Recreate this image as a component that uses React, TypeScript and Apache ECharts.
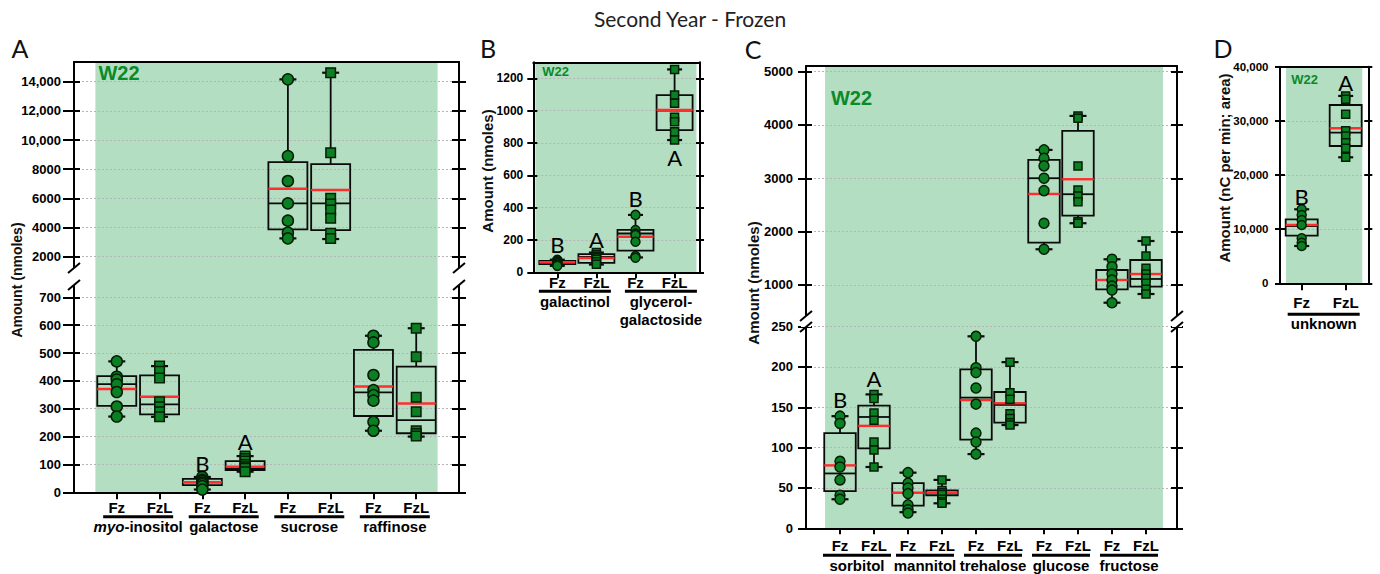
import React, { useEffect, useRef } from 'react';
import * as echarts from 'echarts';

const TREATMENTS = ['Fz', 'FzL'];

// ---------------- Panel A ----------------
const A_GROUPS = ['myo-inositol', 'galactose', 'sucrose', 'raffinose'];
const A_MIN = [272, 271, 10, 74, 3256, 3210, 221, 200];
const A_Q1 = [310, 280, 26, 80, 3873, 3827, 274, 212];
const A_MEDIAN = [388, 316, 36, 86, 5657, 5657, 359, 259];
const A_Q3 = [417, 420, 48, 112, 8490, 8354, 511, 451];
const A_MAX = [470, 453, 55, 130, 14160, 14617, 562, 589];
const A_MEAN = [371, 343, 36, 92, 6662, 6570, 380, 319];
const A_POINTS = [
  [470, 415, 405, 388, 360, 308, 272],
  [453, 435, 410, 325, 307, 289, 271],
  [55, 45, 40, 35, 30, 22, 10],
  [130, 121, 112, 100, 92, 86, 74],
  [14160, 8900, 7190, 5660, 4470, 3650, 3260],
  [14617, 9130, 6000, 5610, 5200, 4630, 3600, 3256],
  [562, 538, 421, 367, 349, 329, 253, 221],
  [589, 487, 341, 289, 221, 211, 202],
];
const A_LETTERS = [
  { idx: 2, y: 105, text: 'B' },
  { idx: 3, y: 181, text: 'A' },
];
const A_TICKS_UPPER = [2000, 4000, 6000, 8000, 10000, 12000, 14000];
const A_TICKS_LOWER = [0, 100, 200, 300, 400, 500, 600, 700];

// ---------------- Panel B ----------------
const B_GROUPS = ['galactinol', 'glycerol-\ngalactoside'];
const B_MIN = [40, 48, 92, 818];
const B_Q1 = [50, 58, 134, 880];
const B_MEDIAN = [60, 95, 240, 1000];
const B_Q3 = [70, 112, 262, 1096];
const B_MAX = [78, 122, 355, 1255];
const B_MEAN = [62, 88, 220, 1004];
const B_POINTS = [
  [78, 72, 65, 60, 55, 48, 40],
  [122, 108, 98, 90, 80, 65, 50],
  [355, 262, 240, 231, 189, 101, 90],
  [1255, 1096, 1045, 959, 931, 870, 818],
];
const B_LETTERS = [
  { idx: 0, y: 169, text: 'B' },
  { idx: 1, y: 200, text: 'A' },
  { idx: 2, y: 459, text: 'B' },
  { idx: 3, y: 712, text: 'A' },
];
const B_TICKS = [0, 200, 400, 600, 800, 1000, 1200];

// ---------------- Panel C ----------------
const C_GROUPS = ['sorbitol', 'mannitol', 'trehalose', 'glucose', 'fructose'];
const C_MIN = [36, 76, 20, 31, 92, 128, 1670, 2158, 668, 831];
const C_Q1 = [46, 99, 28, 41, 110, 131, 1793, 2300, 919, 969];
const C_MEDIAN = [68, 138, 44, 44, 162, 153, 3002, 2702, 1094, 1113];
const C_Q3 = [118, 152, 56, 47, 197, 169, 3345, 3889, 1281, 1469];
const C_MAX = [139, 166, 69, 60, 238, 206, 3533, 4170, 1482, 1825];
const C_MEAN = [78, 127, 44, 44, 159, 155, 2707, 2983, 1094, 1206];
const C_POINTS = [
  [139, 130, 83, 76, 60, 41, 36],
  [166, 161, 143, 134, 107, 97, 76],
  [69, 56, 50, 43, 29, 23, 19],
  [60, 47, 44, 42, 36, 33, 31],
  [238, 199, 193, 174, 154, 118, 107, 92],
  [206, 168, 160, 142, 136, 131, 128],
  [3533, 3377, 3233, 3002, 2769, 2158, 1670],
  [4170, 4127, 3233, 2782, 2670, 2563, 2188, 2158],
  [1482, 1343, 1206, 1094, 981, 906, 668],
  [1825, 1544, 1313, 1206, 1125, 1031, 919, 831],
];
const C_LETTERS = [
  { idx: 0, y: 160, text: 'B' },
  { idx: 1, y: 186, text: 'A' },
];
const C_TICKS_UPPER = [1000, 2000, 3000, 4000, 5000];
const C_TICKS_LOWER = [0, 50, 100, 150, 200, 250];

// ---------------- Panel D ----------------
const D_GROUPS = ['unknown'];
const D_MIN = [6888, 23269];
const D_Q1 = [8796, 25355];
const D_MEDIAN = [10582, 27812];
const D_Q3 = [11819, 32927];
const D_MAX = [13666, 34600];
const D_MEAN = [10766, 28624];
const D_POINTS = [
  [13666, 12613, 11690, 10766, 8310, 7498, 6888],
  [34600, 33980, 31210, 28181, 27202, 25965, 24930, 23269],
];
const D_LETTERS = [
  { idx: 0, y: 15990, text: 'B' },
  { idx: 1, y: 37050, text: 'A' },
];
const D_TICKS = [0, 10000, 20000, 30000, 40000];

// ---------------- styles ----------------
const SANS = '"Liberation Sans", Arial, sans-serif';
const HUMAN = 'Lato, "Open Sans", sans-serif';
const BAND = '#b3dec1';
const GRIDC = '#b5b5b5';
const MARK = '#0b8022';
const MARK_B = '#061d07';
const W22C = '#0a8a2a';
const AX = '#000';

const plain = (v: number) => String(v);
const comma = (v: number) => (v >= 10000 ? v.toLocaleString('en-US') : String(v));

type Seg = { top: number; height: number; min: number; max: number; ticks: number[] };
type Panel = {
  letter: string; letterXY: [number, number];
  yName: string; yNameXY: [number, number]; yNameSize: number;
  w22XY: [number, number]; w22Size: number;
  left: number; width: number; xMin: number; xMax: number; band: [number, number];
  segs: Seg[]; gap?: [number, number];
  groups: string[]; groupPos: number[]; lineWidths: number[];
  min: number[]; q1: number[]; med: number[]; q3: number[]; max: number[]; mean: number[];
  points: number[][]; letters: { idx: number; y: number; text: string }[];
  fmt: (v: number) => string; labelSize: number; labelMargin: number;
  tickOut: number; tickIn: number; rTick: number; xTick: number;
  xMargin: number; gMargin: number; nameLH: number;
  boxW: number; capW: number; circle: number; square: number;
};

const PANELS: Panel[] = [
  {
    letter: 'A', letterXY: [20, 48], yName: 'Amount (nmoles)', yNameXY: [17, 280], yNameSize: 14,
    w22XY: [119, 72.5], w22Size: 20,
    left: 74, width: 385, xMin: -1, xMax: 8, band: [-0.5, 7.5],
    segs: [
      { top: 62, height: 214, min: 677, max: 15351, ticks: A_TICKS_UPPER },
      { top: 276, height: 216.3, min: 0, max: 776.5, ticks: A_TICKS_LOWER },
    ],
    gap: [268, 285],
    groups: A_GROUPS, groupPos: [0.5, 2.5, 4.5, 6.5], lineWidths: [70, 70, 70, 70],
    min: A_MIN, q1: A_Q1, med: A_MEDIAN, q3: A_Q3, max: A_MAX, mean: A_MEAN,
    points: A_POINTS, letters: A_LETTERS,
    fmt: comma, labelSize: 13, labelMargin: 13, tickOut: 11, tickIn: 6, rTick: 7, xTick: 7,
    xMargin: 8, gMargin: 23, nameLH: 17,
    boxW: 39, capW: 17, circle: 11, square: 9.5,
  },
  {
    letter: 'B', letterXY: [488, 48], yName: 'Amount (nmoles)', yNameXY: [487, 171], yNameSize: 15,
    w22XY: [555.5, 71.7], w22Size: 13,
    left: 533.3, width: 166.7, xMin: -0.614, xMax: 3.65, band: [-0.56, 3.56],
    segs: [{ top: 62.3, height: 210, min: 0, max: 1299, ticks: B_TICKS }],
    groups: B_GROUPS, groupPos: [0.45, 2.65], lineWidths: [72, 72],
    min: B_MIN, q1: B_Q1, med: B_MEDIAN, q3: B_Q3, max: B_MAX, mean: B_MEAN,
    points: B_POINTS, letters: B_LETTERS,
    fmt: plain, labelSize: 12, labelMargin: 10, tickOut: 6, tickIn: 4, rTick: 4, xTick: 6,
    xMargin: 3, gMargin: 17.5, nameLH: 18,
    boxW: 36, capW: 15, circle: 9, square: 8,
  },
  {
    letter: 'C', letterXY: [753, 49], yName: 'Amount (nmoles)', yNameXY: [753, 283], yNameSize: 15,
    w22XY: [851.5, 98.3], w22Size: 20,
    left: 806, width: 371, xMin: -1, xMax: 9.912, band: [-0.44, 9.5],
    segs: [
      { top: 66, height: 255, min: 325, max: 5106, ticks: C_TICKS_UPPER },
      { top: 321, height: 207.3, min: 0, max: 257, ticks: C_TICKS_LOWER },
    ],
    gap: [316, 327],
    groups: C_GROUPS, groupPos: [0.5, 2.5, 4.5, 6.5, 8.5], lineWidths: [68, 58, 58, 58, 58],
    min: C_MIN, q1: C_Q1, med: C_MEDIAN, q3: C_Q3, max: C_MAX, mean: C_MEAN,
    points: C_POINTS, letters: C_LETTERS,
    fmt: plain, labelSize: 13, labelMargin: 13, tickOut: 8, tickIn: 6, rTick: 6, xTick: 6,
    xMargin: 10, gMargin: 25.5, nameLH: 17,
    boxW: 31.5, capW: 17, circle: 10, square: 8,
  },
  {
    letter: 'D', letterXY: [1223, 48], yName: 'Amount (nC per min; area)', yNameXY: [1224, 168], yNameSize: 15,
    w22XY: [1304.7, 79], w22Size: 13,
    left: 1280, width: 88.3, xMin: -0.493, xMax: 1.514, band: [-0.357, 1.377],
    segs: [{ top: 66.7, height: 216.6, min: 0, max: 40000, ticks: D_TICKS }],
    groups: D_GROUPS, groupPos: [0.5], lineWidths: [72],
    min: D_MIN, q1: D_Q1, med: D_MEDIAN, q3: D_Q3, max: D_MAX, mean: D_MEAN,
    points: D_POINTS, letters: D_LETTERS,
    fmt: comma, labelSize: 11.5, labelMargin: 11.5, tickOut: 5, tickIn: 5, rTick: 4, xTick: 7,
    xMargin: 11.5, gMargin: 29.5, nameLH: 15,
    boxW: 32, capW: 15, circle: 9, square: 8,
  },
];

function groupText(name: string, j: number): string {
  const line = `{l${j}| }`;
  if (name.startsWith('myo-')) return `${line}\n{i|myo}{n|${name.slice(3)}}`;
  return `${line}\n` + name.split('\n').map((s) => `{n|${s}}`).join('\n');
}

function buildOption() {
  const grid: any[] = [];
  const xAxis: any[] = [];
  const yAxis: any[] = [];
  const series: any[] = [];
  const graphic: any[] = [];
  const axLine = (show: boolean) => ({ show, onZero: false, lineStyle: { color: AX, width: 2 } });

  PANELS.forEach((p) => {
    const n = p.min.length;
    const cats = Array.from({ length: n }, (_, i) => i);
    const rich: any = {
      n: { fontSize: 15, fontWeight: 'bold', lineHeight: p.nameLH, color: '#000', fontFamily: SANS, align: 'center' },
      i: { fontSize: 15, fontWeight: 'bold', fontStyle: 'italic', lineHeight: p.nameLH, color: '#000', fontFamily: SANS, align: 'center' },
    };
    p.lineWidths.forEach((w, j) => {
      rich['l' + j] = { width: w, height: 3, lineHeight: 3, fontSize: 1, backgroundColor: '#000', align: 'center' };
    });

    p.segs.forEach((s, si) => {
      const gi = grid.length;
      grid.push({ left: p.left, top: s.top, width: p.width, height: s.height, containLabel: false, outerBoundsMode: 'none' });
      const isTop = si === 0;
      const isBottom = si === p.segs.length - 1;
      const xb = {
        type: 'value', gridIndex: gi, min: p.xMin, max: p.xMax,
        splitLine: { show: false }, axisTick: { show: false }, axisLabel: { show: false }, axisLine: axLine(false),
      };
      const xi = xAxis.length;
      if (isBottom) {
        xAxis.push({
          ...xb, position: 'bottom', axisLine: axLine(true),
          axisTick: { show: true, customValues: cats, length: p.xTick, inside: false, lineStyle: { color: AX, width: 2 } },
          axisLabel: {
            show: true, customValues: cats, margin: p.xMargin, color: '#000', fontSize: 15, fontWeight: 'bold', fontFamily: SANS,
            formatter: (v: number) => TREATMENTS[Math.round(v) % 2],
          },
        });
        xAxis.push({
          ...xb, position: 'bottom',
          axisLabel: {
            show: true, customValues: p.groupPos, margin: p.gMargin, rich,
            formatter: (v: number) => {
              const j = p.groupPos.findIndex((g) => Math.abs(g - v) < 1e-6);
              return j < 0 ? '' : groupText(p.groups[j], j);
            },
          },
        });
        if (isTop) xAxis.push({ ...xb, position: 'top', axisLine: axLine(true) });
      } else {
        xAxis.push({ ...xb, position: 'top', axisLine: axLine(isTop) });
      }

      const yi = yAxis.length;
      const yb = {
        type: 'value', gridIndex: gi, min: s.min, max: s.max,
        splitLine: { show: false }, axisLabel: { show: false }, axisLine: axLine(false),
      };
      const tk = (len: number, inside: boolean) => ({
        show: true, customValues: s.ticks, length: len, inside, lineStyle: { color: AX, width: 2 },
      });
      yAxis.push({
        ...yb, position: 'left', axisLine: axLine(true), axisTick: tk(p.tickOut, false),
        axisLabel: {
          show: true, customValues: s.ticks, margin: p.labelMargin, formatter: p.fmt,
          color: '#000', fontSize: p.labelSize, fontWeight: 700, fontFamily: SANS,
        },
        splitLine: { show: true, lineStyle: { color: GRIDC, width: 1, type: [2, 2] } },
      });
      yAxis.push({ ...yb, position: 'left', axisTick: tk(p.tickIn, true) });
      yAxis.push({ ...yb, position: 'right', axisLine: axLine(true), axisTick: tk(p.rTick, false) });
      yAxis.push({ ...yb, position: 'right', axisTick: tk(p.rTick, true) });

      // green band
      series.push({
        type: 'custom', xAxisIndex: xi, yAxisIndex: yi, z: -1, silent: true, clip: false,
        data: [[p.band[0], p.band[1]]],
        renderItem: (params: any, api: any) => {
          const cs = params.coordSys;
          const xa = api.coord([api.value(0), s.min])[0];
          const xe = api.coord([api.value(1), s.min])[0];
          return { type: 'rect', shape: { x: xa, y: cs.y, width: xe - xa, height: cs.height }, style: { fill: BAND } };
        },
      });

      const idxs = cats.filter((i) => p.min[i] >= s.min && p.max[i] <= s.max);
      // boxes
      series.push({
        type: 'custom', xAxisIndex: xi, yAxisIndex: yi, z: 2, silent: true,
        data: idxs.map((i) => [i, p.min[i], p.q1[i], p.med[i], p.q3[i], p.max[i], p.mean[i]]),
        renderItem: (params: any, api: any) => {
          const x = api.value(0);
          const pt = (k: number) => api.coord([x, api.value(k)]);
          const cx = pt(1)[0];
          const [yMin, yQ1, yMed, yQ3, yMax, yMean] = [1, 2, 3, 4, 5, 6].map((k) => pt(k)[1]);
          const hw = p.boxW / 2;
          const hc = p.capW / 2;
          const k = { stroke: '#0a0a0a', lineWidth: 1.8 };
          return {
            type: 'group',
            children: [
              { type: 'line', shape: { x1: cx, y1: yQ3, x2: cx, y2: yMax }, style: k },
              { type: 'line', shape: { x1: cx, y1: yQ1, x2: cx, y2: yMin }, style: k },
              { type: 'line', shape: { x1: cx - hc, y1: yMax, x2: cx + hc, y2: yMax }, style: { ...k, lineWidth: 2.2 } },
              { type: 'line', shape: { x1: cx - hc, y1: yMin, x2: cx + hc, y2: yMin }, style: { ...k, lineWidth: 2.2 } },
              { type: 'rect', shape: { x: cx - hw, y: yQ3, width: hw * 2, height: yQ1 - yQ3 }, style: { ...k, fill: 'rgba(0,0,0,0)' } },
              { type: 'line', shape: { x1: cx - hw, y1: yMed, x2: cx + hw, y2: yMed }, style: k },
              { type: 'line', shape: { x1: cx - hw, y1: yMean, x2: cx + hw, y2: yMean }, style: { stroke: '#ff2d2d', lineWidth: 2.4 } },
            ],
          };
        },
      });
      // points
      const pts = (parity: number) =>
        idxs.filter((i) => i % 2 === parity).flatMap((i) => p.points[i].map((v) => [i, v]));
      const markStyle = { color: MARK, borderColor: MARK_B, borderWidth: 1.5, opacity: 1 };
      series.push({
        type: 'scatter', xAxisIndex: xi, yAxisIndex: yi, z: 3, silent: true,
        symbol: 'circle', symbolSize: p.circle, itemStyle: markStyle, data: pts(0),
      });
      series.push({
        type: 'scatter', xAxisIndex: xi, yAxisIndex: yi, z: 3, silent: true,
        symbol: 'rect', symbolSize: p.square, itemStyle: markStyle, data: pts(1),
      });
      // significance letters
      const lets = p.letters.filter((l) => l.y >= s.min && l.y <= s.max);
      series.push({
        type: 'custom', xAxisIndex: xi, yAxisIndex: yi, z: 4, silent: true, clip: false,
        data: lets.map((l) => [l.idx, l.y]),
        renderItem: (params: any, api: any) => {
          const c = api.coord([api.value(0), api.value(1)]);
          return {
            type: 'text', x: c[0], y: c[1],
            style: {
              text: lets[params.dataIndex].text, fill: '#000', fontSize: 22, fontFamily: HUMAN,
              align: 'center', verticalAlign: 'middle', textAlign: 'center', textVerticalAlign: 'middle',
            },
          };
        },
      });
    });

    // decorations
    graphic.push({
      type: 'text', x: p.letterXY[0], y: p.letterXY[1], z: 50,
      style: { text: p.letter, fill: '#111', fontSize: 25, fontFamily: HUMAN, align: 'center', verticalAlign: 'middle', textAlign: 'center', textVerticalAlign: 'middle' },
    });
    graphic.push({
      type: 'text', x: p.yNameXY[0], y: p.yNameXY[1], rotation: Math.PI / 2, z: 50,
      style: { text: p.yName, fill: '#111', fontSize: p.yNameSize, fontWeight: 'bold', fontFamily: SANS, align: 'center', verticalAlign: 'middle', textAlign: 'center', textVerticalAlign: 'middle' },
    });
    graphic.push({
      type: 'text', x: p.w22XY[0], y: p.w22XY[1], z: 50,
      style: { text: 'W22', fill: W22C, fontSize: p.w22Size, fontWeight: 'bold', fontFamily: SANS, align: 'center', verticalAlign: 'middle', textAlign: 'center', textVerticalAlign: 'middle' },
    });
    if (p.gap) {
      const [g0, g1] = p.gap;
      [p.left, p.left + p.width].forEach((x) => {
        graphic.push({ type: 'rect', z: 50, shape: { x: x - 5, y: g0, width: 10, height: g1 - g0 }, style: { fill: '#fff' } });
        graphic.push({ type: 'line', z: 51, shape: { x1: x - 6, y1: g0 + 5, x2: x + 6, y2: g0 - 5 }, style: { stroke: '#000', lineWidth: 2 } });
        graphic.push({ type: 'line', z: 51, shape: { x1: x - 6, y1: g1 + 5, x2: x + 6, y2: g1 - 5 }, style: { stroke: '#000', lineWidth: 2 } });
      });
    }
  });

  graphic.push({
    type: 'text', x: 690, y: 18, z: 50,
    style: { text: 'Second Year - Frozen', fill: '#222', fontSize: 21, fontFamily: HUMAN, align: 'center', verticalAlign: 'middle', textAlign: 'center', textVerticalAlign: 'middle' },
  });

  return {
    animation: false,
    backgroundColor: '#fff',
    textStyle: { fontFamily: SANS },
    grid, xAxis, yAxis, series, graphic,
  };
}

export default function App() {
  const ref = useRef<HTMLDivElement>(null);
  useEffect(() => {
    if (!ref.current) return;
    const chart = echarts.init(ref.current, null, { renderer: 'svg' });
    chart.setOption(buildOption() as any);
    return () => chart.dispose();
  }, []);
  return <div ref={ref} style={{ position: 'fixed', left: 0, top: 0, width: 1380, height: 574, background: '#fff' }} />;
}
